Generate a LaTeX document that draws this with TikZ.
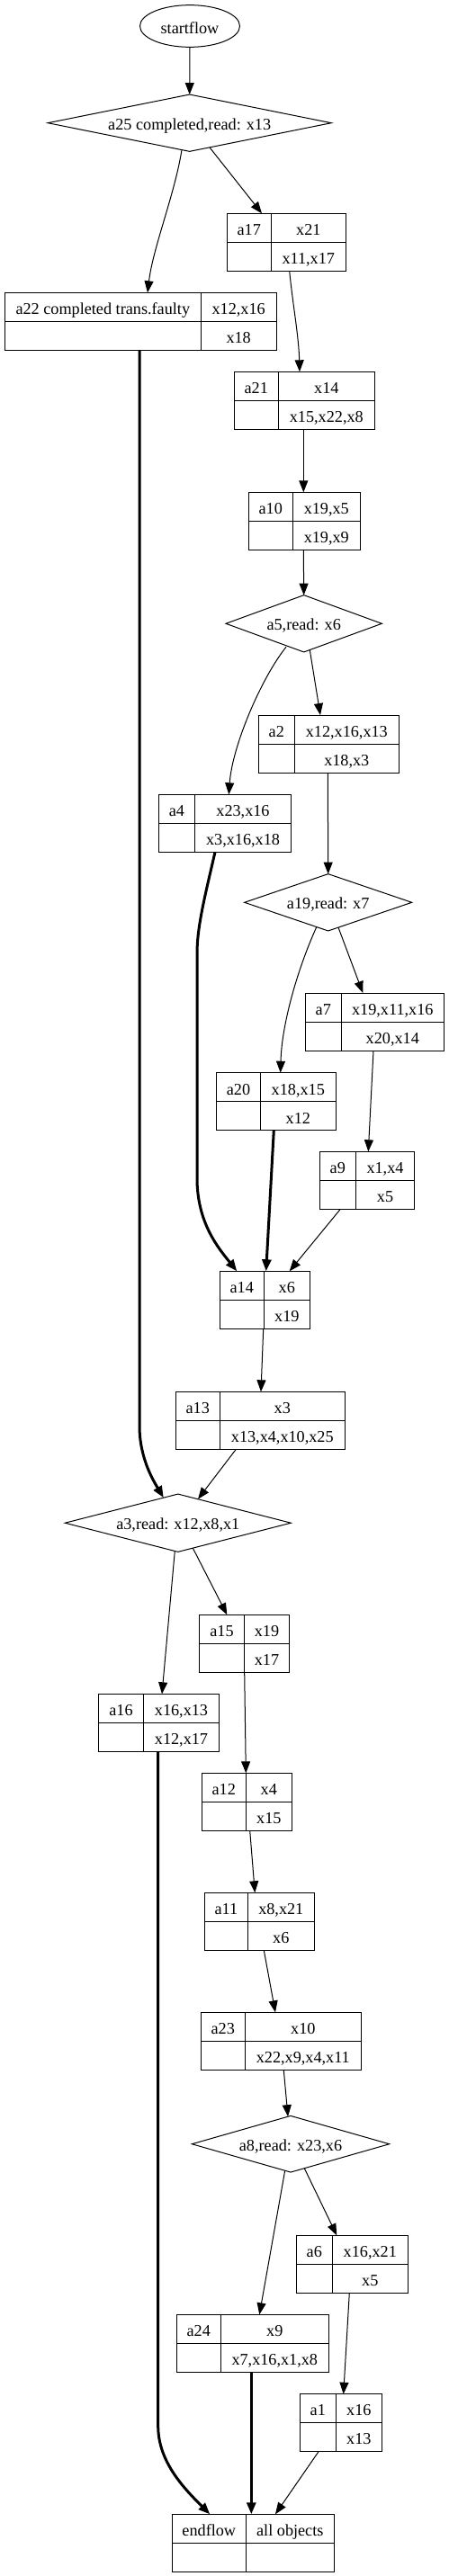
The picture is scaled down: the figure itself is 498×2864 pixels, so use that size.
\documentclass[tikz,border=0pt]{standalone}
\usepackage{fontspec}
\setmainfont{Liberation Serif}
\usetikzlibrary{arrows.meta,shapes.geometric}
\tikzset{
  boxline/.style={draw=black, line width=1pt},
  recbox/.style={draw=black, line width=1pt, rectangle, inner sep=0pt, outer sep=0pt},
  diabox/.style={rectangle, inner sep=0pt, outer sep=0pt},
  lbl/.style={font=\fontsize{18.2pt}{22pt}\selectfont, inner sep=0pt, anchor=base},
  edge/.style={draw=black, line width=1pt, -{Triangle[length=13pt,width=10pt]}},
  thickedge/.style={draw=black, line width=3pt, -{Triangle[length=13pt,width=10pt]}},
}
% record: name, x1, y1, x2, y2, divx, top-left, top-right, bottom-right
\newcommand\recnode[9]{%
  \node[recbox, minimum width={#4-#2}, minimum height={#5-#3}] (#1) at ({(#2+#4)/2},{(#3+#5)/2}) {};
  \draw[boxline] (#1.west) -- (#1.east);
  \draw[boxline] ([xshift={#6-#2}]#1.north west) -- ([xshift={#6-#2}]#1.south west);
  \node[lbl] (#1-tl) at ({(#2+#6)/2},{#3+(#5-#3)/4+8.3}) {#7};
  \node[lbl] (#1-tr) at ({(#6+#4)/2},{#3+(#5-#3)/4+8.3}) {#8};
  \node[lbl] (#1-br) at ({(#6+#4)/2},{#3+3*(#5-#3)/4+8.3}) {#9};
}
% diamond: name, cx, cy, w, h, text
\newcommand\dianode[6]{%
  \node[diabox, minimum width=#4, minimum height=#5] (#1) at (#2,#3) {};
  \draw[boxline] (#1.west) -- (#1.north) -- (#1.east) -- (#1.south) -- cycle;
  \node[lbl] (#1-t) at (#2,{#3+7.5}) {#6};
}
\begin{document}
\begin{tikzpicture}[x=1pt,y=-1pt]
\useasboundingbox (0,0) rectangle (498,2864);

\node[ellipse, draw=black, line width=1pt, minimum width=111pt, minimum height=46.7pt, inner sep=0pt] (start) at (211,29) {};
\node[lbl] (start-t) at (211,37.3) {startflow};

\dianode{a25}{210.7}{136.7}{315pt}{63.3pt}{a25 completed,read: x13}
\dianode{a5}{337.7}{693.3}{173.3pt}{63.3pt}{a5,read: x6}
\dianode{a19}{364.7}{1003.3}{186pt}{63.3pt}{a19,read: x7}
\dianode{a3}{197.8}{1693.2}{251pt}{64.3pt}{a3,read: x12,x8,x1}
\dianode{a8}{323}{2383.7}{219.3pt}{62.7pt}{a8,read: x23,x6}

\recnode{a17}{252.3}{237.3}{384.3}{301.3}{301.3}{a17}{x21}{x11,x17}
\recnode{a22}{5.3}{325.3}{307}{389.3}{223.3}{a22 completed trans.faulty}{x12,x16}{x18}
\recnode{a21}{260.3}{413.3}{416.3}{477.3}{309.3}{a21}{x14}{x15,x22,x8}
\recnode{a10}{276.3}{547.3}{400.3}{611.3}{325.3}{a10}{x19,x5}{x19,x9}
\recnode{a2}{287.3}{795}{443.3}{859.3}{327.3}{a2}{x12,x16,x13}{x18,x3}
\recnode{a4}{176.3}{883.3}{323.3}{947.3}{216.7}{a4}{x23,x16}{x3,x16,x18}
\recnode{a7}{339.3}{1104}{493.3}{1168.3}{379.3}{a7}{x19,x11,x16}{x20,x14}
\recnode{a20}{240.7}{1192.7}{373.3}{1256.7}{289.3}{a20}{x18,x15}{x12}
\recnode{a9}{355.3}{1280.3}{460.7}{1344.3}{395.3}{a9}{x1,x4}{x5}
\recnode{a14}{244.3}{1413.3}{344.3}{1477.3}{293.3}{a14}{x6}{x19}
\recnode{a13}{195.3}{1547.3}{383.3}{1611.3}{244.3}{a13}{x3}{x13,x4,x10,x25}
\recnode{a15}{221.3}{1795.3}{321.3}{1859.3}{271.7}{a15}{x19}{x17}
\recnode{a16}{109.3}{1883.3}{243.3}{1947.3}{159.7}{a16}{x16,x13}{x12,x17}
\recnode{a12}{224.3}{1971.3}{324.3}{2035.3}{273.3}{a12}{x4}{x15}
\recnode{a11}{227.3}{2104.3}{349.3}{2168.3}{275.3}{a11}{x8,x21}{x6}
\recnode{a23}{223.3}{2237.3}{401.3}{2301.3}{272.3}{a23}{x10}{x22,x9,x4,x11}
\recnode{a6}{329.3}{2485.3}{453.3}{2549.3}{369.3}{a6}{x16,x21}{x5}
\recnode{a24}{196.3}{2573.3}{365.3}{2637.3}{245.3}{a24}{x9}{x7,x16,x1,x8}
\recnode{a1}{333.3}{2661.7}{424.3}{2725.3}{373.3}{a1}{x16}{x13}
\recnode{endf}{191.3}{2795.3}{371.3}{2859.3}{273.3}{endflow}{all objects}{}

% connectors
\draw[edge] (start.south) -- (a25.north);
\draw[edge] ([shift={(-8.7,30)}]a25.center) .. controls +(-8,50) and +(6,-50) .. ([xshift=158.7pt]a22.north west);
\draw[edge] ([shift={(22.3,27.2)}]a25.center) -- ([xshift=38.7pt]a17.north west);
\draw[edge] ([xshift=69.4pt]a17.south west) .. controls +(4,40) and +(-1,-40) .. ([xshift=72.7pt]a21.north west);
\draw[edge] ([xshift=77pt]a21.south west) -- ([xshift=61pt]a10.north west);
\draw[edge] ([xshift=61pt]a10.south west) -- (a5.north);
\draw[edge] ([shift={(-19.7,26)}]a5.center) .. controls +(-28,35) and +(3.7,-53.3) .. ([xshift=78pt]a4.north west);
\draw[edge] ([shift={(6.6,29.2)}]a5.center) -- ([xshift=68.7pt]a2.north west);
\draw[edge] ([xshift=77pt]a2.south west) -- (a19.north);
\draw[edge] ([shift={(-13,27.5)}]a19.center) .. controls +(-21.7,48) and +(1.3,-52.7) .. ([xshift=71pt]a20.north west);
\draw[edge] ([shift={(11.3,27.8)}]a19.center) -- ([xshift=64pt]a7.north west);
\draw[edge] ([xshift=75.7pt]a7.south west) -- ([xshift=54pt]a9.north west);
\draw[thickedge] ([xshift=62.7pt]a4.south west) .. controls +(-11,48) and +(0,-30) .. ++(-20,112.7) -- ++(0,250) .. controls +(0,50) and +(-20,-25) .. ([xshift=19pt]a14.north west);
\draw[thickedge] ([xshift=63.6pt]a20.south west) -- ([xshift=51.4pt]a14.north west);
\draw[edge] ([xshift=23pt]a9.south west) -- ([xshift=77.4pt]a14.north west);
\draw[edge] ([xshift=48.4pt]a14.south west) -- ([xshift=94.7pt]a13.north west);
\draw[thickedge] ([xshift=149.7pt]a22.south west) -- ++(0,1196) .. controls +(0,35) and +(-12,-20) .. ([shift={(-16,-28)}]a3.center);
\draw[edge] ([xshift=67pt]a13.south west) -- ([shift={(22.2,-26.5)}]a3.center);
\draw[edge] ([shift={(-3.5,31.2)}]a3.center) -- ([xshift=70.7pt]a16.north west);
\draw[edge] ([shift={(16.5,27.9)}]a3.center) -- ([xshift=31pt]a15.north west);
\draw[edge] ([xshift=50.4pt]a15.south west) -- ([xshift=49pt]a12.north west);
\draw[thickedge] ([xshift=66.4pt]a16.south west) -- ++(0,750) .. controls +(0,40) and +(-28,-28) .. ([xshift=42pt]endf.north west);
\draw[edge] ([xshift=53.4pt]a12.south west) -- ([xshift=56pt]a11.north west);
\draw[edge] ([xshift=66pt]a11.south west) -- ([xshift=82.7pt]a23.north west);
\draw[edge] ([xshift=92pt]a23.south west) -- ([shift={(-3,-30.5)}]a8.center);
\draw[edge] ([shift={(-6.3,29.5)}]a8.center) -- ([xshift=92pt]a24.north west);
\draw[edge] ([shift={(15.3,27)}]a8.center) -- ([xshift=45pt]a6.north west);
\draw[edge] ([xshift=59pt]a6.south west) -- ([xshift=48.4pt]a1.north west);
\draw[thickedge] ([xshift=83pt]a24.south west) -- ([xshift=88pt]endf.north west);
\draw[edge] ([xshift=21pt]a1.south west) -- ([xshift=114.7pt]endf.north west);
\end{tikzpicture}
\end{document}
